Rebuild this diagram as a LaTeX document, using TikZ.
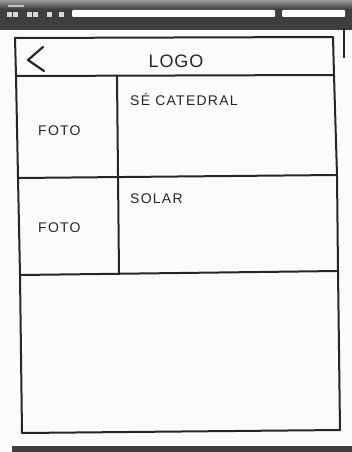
\documentclass[tikz,border=0pt]{standalone}
\usepackage{fontspec}
\setmainfont{Liberation Sans}
\definecolor{ink}{HTML}{262626}
\definecolor{barA}{HTML}{3E3E3E}
\definecolor{barB}{HTML}{9A9A9A}
\definecolor{paper}{HTML}{FBFBFB}
\tikzset{
  sketch/.style={draw=ink, line width=2pt, line cap=round, line join=round},
  hand/.style={text=ink, font=\fontsize{14}{16}\selectfont\addfontfeature{LetterSpace=9}, inner sep=0pt, anchor=west},
  strip/.style={fill=white, draw=none, rounded corners=1pt},
}
\begin{document}
\begin{tikzpicture}[x=1pt,y=-1pt]
\useasboundingbox (0,0) rectangle (352,452);
\fill[paper] (0,0) rectangle (352,452);
% top status bar
\shade[top color=barB, bottom color=barA] (0,0) rectangle (352,9);
\fill[barA] (0,9) rectangle (352,30);
\node[strip, minimum width=203pt, minimum height=7pt, inner sep=0pt, anchor=west] (url) at (72,13.5) {};
\node[strip, minimum width=63pt, minimum height=7pt, inner sep=0pt, anchor=west] (search) at (282,13.5) {};
\foreach \i/\xx in {a/9,b/15,c/29,d/35,e/49,f/61}{
  \node[fill=white!80!barA, minimum width=5pt, minimum height=5pt, inner sep=0pt] (ic\i) at (\xx,15) {};
}
\node[fill=white!70!barA, minimum width=16pt, minimum height=2pt, inner sep=0pt] (ttl) at (16,6) {};
% scrollbar
\coordinate (sb1) at (344,28);
\coordinate (sb2) at (344,58);
\draw[ink, line width=2pt] (sb1) -- (sb2);
% bottom bar
\fill[barA] (12,446) rectangle (352,452);
% frame corners
\coordinate (tl) at (15,38);
\coordinate (tr) at (333,37);
\coordinate (hl) at (16,76);
\coordinate (hr) at (334,75);
\coordinate (r1l) at (18,178);
\coordinate (r1r) at (337,175);
\coordinate (r2l) at (20,275);
\coordinate (r2r) at (338,271);
\coordinate (bl) at (22,433);
\coordinate (br) at (340,430);
\coordinate (c1) at (117,76);
\coordinate (c2) at (119,274);
% frame
\draw[sketch] (tl) -- (tr) -- (hr) -- (r1r) -- (r2r) -- (br) -- (bl) -- (r2l) -- (r1l) -- (hl) -- cycle;
\draw[sketch] (hl) -- (hr);
\draw[sketch] (r1l) -- (r1r);
\draw[sketch] (r2l) -- (r2r);
\draw[sketch] (c1) -- (c2);
% back arrow
\coordinate (b1) at (43,47);
\coordinate (b2) at (28,60);
\coordinate (b3) at (44,71);
\draw[sketch, line width=2.2pt] (b1) -- (b2) -- (b3);
% texts
\node[text=ink, font=\fontsize{18}{20}\selectfont\addfontfeature{LetterSpace=5}, inner sep=0pt] (logo) at (176,61) {LOGO};
\node[hand] (t1) at (130,99) {SÉ CATEDRAL};
\node[hand] (f1) at (38,131) {FOTO};
\node[hand] (t2) at (130,199) {SOLAR};
\node[hand] (f2) at (38,228) {FOTO};
\end{tikzpicture}
\end{document}
